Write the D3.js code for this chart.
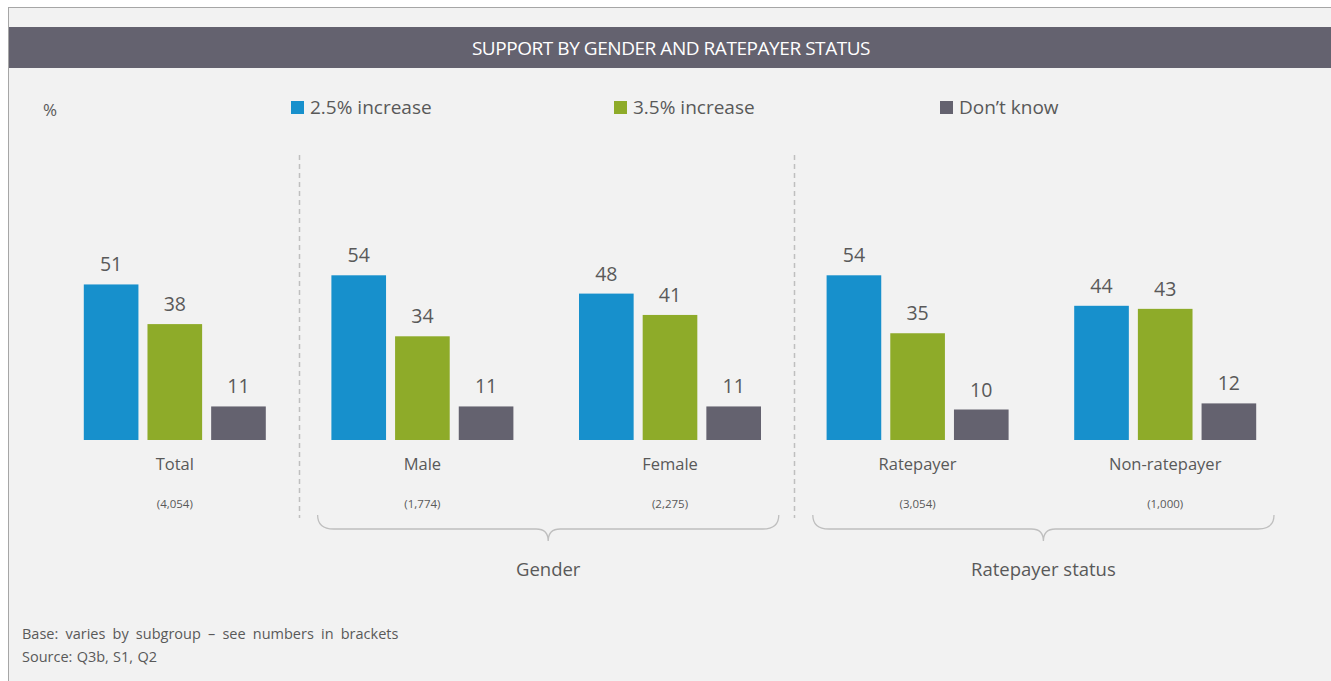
<!DOCTYPE html>
<html>
<head>
<meta charset="utf-8">
<script src="https://cdn.jsdelivr.net/npm/d3@7/dist/d3.min.js"></script>
<style>
  html, body { margin: 0; padding: 0; background: #ffffff; }
  svg { display: block; }
  text { font-family: "Open Sans", "Noto Sans", sans-serif; }
</style>
</head>
<body>
<svg id="chart" width="1331" height="681"></svg>
<script>
// Subgroups and their base sizes
const categories = ["Total", "Male", "Female", "Ratepayer", "Non-ratepayer"];
const baseSizes = ["(4,054)", "(1,774)", "(2,275)", "(3,054)", "(1,000)"];

// Series values (%)
const seriesNames = ["2.5% increase", "3.5% increase", "Don\u2019t know"];
const increase25 = [51, 54, 48, 54, 44];
const increase35 = [38, 34, 41, 35, 43];
const dontKnow = [11, 11, 11, 10, 12];

// Groupings drawn with braces underneath
const groupings = [
  { label: "Gender", members: ["Male", "Female"] },
  { label: "Ratepayer status", members: ["Ratepayer", "Non-ratepayer"] }
];
// Dashed separators sit before these categories
const separatorsBefore = ["Male", "Ratepayer"];

const colors = ["#1790cc", "#8eab29", "#64626f"];
const textColor = "#595959";

const W = 1331, H = 681;
const svg = d3.select("#chart");

// Panel background and border
svg.append("rect").attr("x", 8).attr("y", 7).attr("width", W - 8).attr("height", H - 7)
  .attr("fill", "#f2f2f2");
svg.append("line").attr("x1", 8).attr("x2", W).attr("y1", 7.5).attr("y2", 7.5)
  .attr("stroke", "#a6a6a6").attr("stroke-width", 1);
svg.append("line").attr("x1", 8.5).attr("x2", 8.5).attr("y1", 7).attr("y2", H)
  .attr("stroke", "#a6a6a6").attr("stroke-width", 1);

// Title bar
svg.append("rect").attr("x", 9).attr("y", 27).attr("width", W - 9).attr("height", 41)
  .attr("fill", "#64626f");
svg.append("text").attr("x", 671).attr("y", 55).attr("text-anchor", "middle")
  .attr("fill", "#ffffff").attr("font-size", 19).attr("letter-spacing", -0.45)
  .text("SUPPORT BY GENDER AND RATEPAYER STATUS");

// Unit label
svg.append("text").attr("x", 43).attr("y", 116).attr("fill", textColor)
  .attr("font-size", 17).text("%");

// Legend
const legendX = [291, 614, 940];
seriesNames.forEach((name, i) => {
  svg.append("rect").attr("x", legendX[i]).attr("y", 101).attr("width", 13).attr("height", 13)
    .attr("fill", colors[i]);
  svg.append("text").attr("x", legendX[i] + 19).attr("y", 114).attr("fill", textColor)
    .attr("font-size", 19).text(name);
});

// Scales
const x0 = d3.scaleBand().domain(categories).range([51, 1289]).paddingInner(0).paddingOuter(0);
const x1 = d3.scaleBand().domain(seriesNames).range([0, 182]).paddingInner(0.142).paddingOuter(0);
const y = d3.scaleLinear().domain([0, 100]).range([440, 135]);

const innerOffset = (x0.bandwidth() - 182) / 2;

const rows = categories.map((c, i) => ({
  cat: c,
  base: baseSizes[i],
  values: [increase25[i], increase35[i], dontKnow[i]]
}));

const groups = svg.append("g").selectAll("g").data(rows).join("g")
  .attr("transform", d => `translate(${x0(d.cat) + innerOffset},0)`);

groups.selectAll("rect").data(d => d.values.map((v, i) => ({ v, s: seriesNames[i], i })))
  .join("rect")
  .attr("x", d => x1(d.s))
  .attr("y", d => y(d.v))
  .attr("width", x1.bandwidth())
  .attr("height", d => y(0) - y(d.v))
  .attr("fill", d => colors[d.i]);

groups.selectAll("text.val").data(d => d.values.map((v, i) => ({ v, s: seriesNames[i] })))
  .join("text").attr("class", "val")
  .attr("x", d => x1(d.s) + x1.bandwidth() / 2)
  .attr("y", d => y(d.v) - 13)
  .attr("text-anchor", "middle").attr("fill", textColor).attr("font-size", 19.5)
  .text(d => d.v);

// Category labels and base sizes
rows.forEach(d => {
  const cx = x0(d.cat) + x0.bandwidth() / 2;
  svg.append("text").attr("x", cx).attr("y", 470).attr("text-anchor", "middle")
    .attr("fill", textColor).attr("font-size", 16.5).text(d.cat);
  svg.append("text").attr("x", cx).attr("y", 508).attr("text-anchor", "middle")
    .attr("fill", textColor).attr("font-size", 11.5).text(d.base);
});

// Dashed separators
separatorsBefore.forEach(c => {
  const sx = Math.round(x0(c)) + 0.5;
  svg.append("line").attr("x1", sx).attr("x2", sx).attr("y1", 155).attr("y2", 518)
    .attr("stroke", "#bfbfbf").attr("stroke-width", 1.5).attr("stroke-dasharray", "5,4");
});

// Braces under grouped categories
function bracePath(xa, xb, yTop, yMid, yTip) {
  const cx = (xa + xb) / 2;
  const r = 16;
  return `M${xa},${yTop} Q${xa},${yMid} ${xa + r},${yMid} L${cx - 12},${yMid} ` +
    `Q${cx},${yMid} ${cx},${yTip} Q${cx},${yMid} ${cx + 12},${yMid} ` +
    `L${xb - r},${yMid} Q${xb},${yMid} ${xb},${yTop}`;
}
groupings.forEach(g => {
  const xa = x0(g.members[0]) + 19;
  const xb = x0(g.members[g.members.length - 1]) + x0.bandwidth() - 15;
  svg.append("path").attr("d", bracePath(xa, xb, 515, 529, 541))
    .attr("fill", "none").attr("stroke", "#bfbfbf").attr("stroke-width", 1.3);
  svg.append("text").attr("x", (xa + xb) / 2).attr("y", 576).attr("text-anchor", "middle")
    .attr("fill", textColor).attr("font-size", 18.5).text(g.label);
});

// Footnotes
svg.append("text").attr("x", 22).attr("y", 639).attr("fill", textColor).attr("font-size", 14.5)
  .attr("word-spacing", 3.4).text("Base: varies by subgroup \u2013 see numbers in brackets");
svg.append("text").attr("x", 22).attr("y", 662).attr("fill", textColor).attr("font-size", 14.5)
  .attr("word-spacing", 0.5).text("Source: Q3b, S1, Q2");
</script>
</body>
</html>
